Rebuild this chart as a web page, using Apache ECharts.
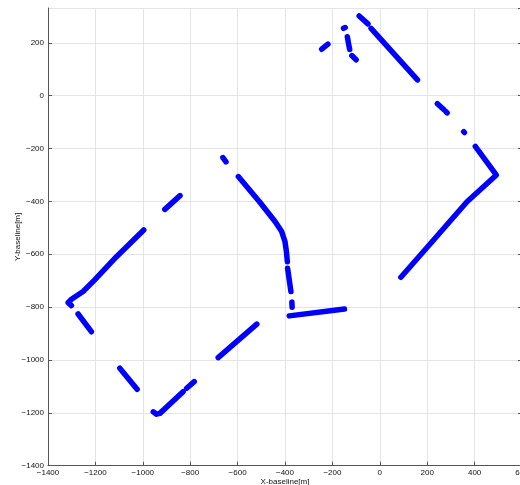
<!DOCTYPE html>
<html>
<head>
<meta charset="utf-8">
<script src="https://cdn.jsdelivr.net/npm/echarts@6/dist/echarts.min.js"></script>
<style>html,body{margin:0;padding:0;background:#fff;}#chart{width:520px;height:485px;}</style>
</head>
<body>
<div id="chart"></div>
<script>
// Axis ranges and tick labels
var xTicks = [-1400, -1200, -1000, -800, -600, -400, -200, 0, 200, 400, 600];
var yTicks = [-1400, -1200, -1000, -800, -600, -400, -200, 0, 200];
var xName = 'X-baseline[m]';
var yName = 'Y-baseline[m]';

// Track segments [x, y] in metres
var segA = [[-245,176],[-219,195]];
var segB = [[-153,255],[-146,258]];
var segC = [[-137,223],[-132,198],[-127,175]];
var segD = [[-118,152],[-100,136]];
var segE = [[-87,302],[-50,272]];
var segF = [[-37,255],[159,60]];
var segG = [[243,-30],[270,-52]];
var segH = [[279,-60],[284,-65]];
var segI = [[354,-136],[357,-139]];
var segJ = [[403,-192],[492,-300],[368,-401],[227,-546],[89,-687]];
var segK = [[-662,-234],[-649,-250]];
var segL = [[-597,-306],[-506,-403],[-442,-476],[-414,-514],[-400,-552],[-394,-590],[-390,-628]];
var segM = [[-389,-653],[-375,-741]];
var segN = [[-371,-781],[-370,-800]];
var segO = [[-382,-833],[-149,-807]];
var segP = [[-907,-430],[-843,-378]];
var segQ = [[-1301,-794],[-1315,-783],[-1301,-770],[-1252,-741],[-1203,-697],[-1111,-609],[-996,-508]];
var segR = [[-1273,-826],[-1217,-893]];
var segS = [[-1097,-1031],[-1024,-1111]];
var segT = [[-956,-1196],[-942,-1205],[-928,-1202],[-830,-1120]];
var segU = [[-815,-1107],[-783,-1082]];
var segV = [[-682,-991],[-519,-864]];
var segments = [segA,segB,segC,segD,segE,segF,segG,segH,segI,segJ,segK,segL,segM,segN,segO,segP,segQ,segR,segS,segT,segU,segV];

var chart = echarts.init(document.getElementById('chart'), null, {renderer:'canvas'});
var fontFam = 'Liberation Sans, Arial, sans-serif';
function fmt(v){ return String(v).replace('-', '\u2212'); }

var series = segments.map(function(s){
  return {
    type:'line', data:s, showSymbol:false, symbol:'none', silent:true, animation:false,
    lineStyle:{color:'#0000ff', width:5.5, cap:'round', join:'round'}
  };
});

chart.setOption({
  animation:false,
  backgroundColor:'#fff',
  grid:{left:48, right:-2, top:8, bottom:19.3, containLabel:false, outerBoundsMode:'none'},
  xAxis:{
    type:'value', min:xTicks[0], max:xTicks[xTicks.length-1], interval:200,
    name:xName, nameLocation:'middle', nameGap:12, nameMoveOverlap:false,
    nameTextStyle:{fontSize:8, color:'#111', fontFamily:fontFam},
    axisLine:{show:true, onZero:false, lineStyle:{color:'#555', width:1}},
    axisTick:{show:true, inside:true, length:4, lineStyle:{color:'#555'}},
    axisLabel:{fontSize:8, color:'#111', margin:3, fontFamily:fontFam, formatter:fmt},
    splitLine:{show:true, lineStyle:{color:'#e4e4e4', width:1}}
  },
  yAxis:[{
    type:'value', min:yTicks[0], max:332, interval:200,
    name:yName, nameLocation:'middle', nameGap:30, nameRotate:90, nameMoveOverlap:false,
    nameTextStyle:{fontSize:8, color:'#111', fontFamily:fontFam, verticalAlign:'middle'},
    axisLine:{show:true, onZero:false, lineStyle:{color:'#555', width:1}},
    axisTick:{show:true, inside:true, length:4, lineStyle:{color:'#555'}},
    axisLabel:{fontSize:8, color:'#111', margin:4, fontFamily:fontFam, showMaxLabel:false, formatter:fmt},
    splitLine:{show:true, lineStyle:{color:'#e4e4e4', width:1}}
  },{
    type:'value', position:'right', min:yTicks[0], max:332, interval:200,
    axisLine:{show:true, onZero:false, lineStyle:{color:'#555', width:1}},
    axisTick:{show:true, inside:true, length:4, lineStyle:{color:'#555'}},
    axisLabel:{show:false},
    splitLine:{show:false}
  }],
  series:series
});
</script>
</body>
</html>
